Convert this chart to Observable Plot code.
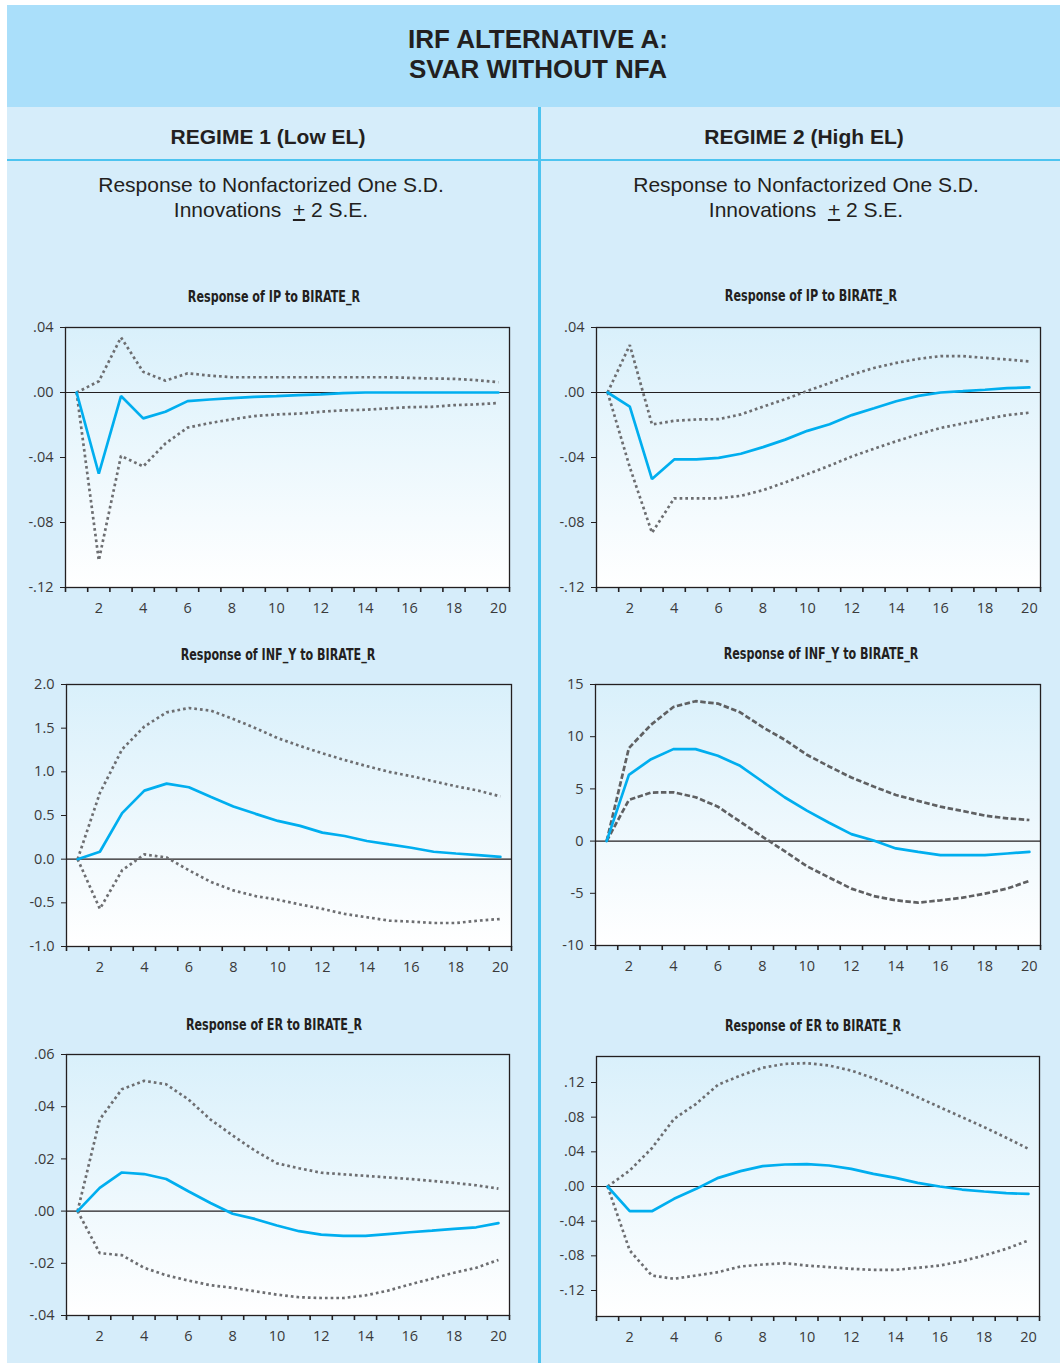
<!DOCTYPE html>
<html>
<head>
<meta charset="utf-8">
<script src="https://cdn.jsdelivr.net/npm/d3@7"></script>
<script src="https://cdn.jsdelivr.net/npm/@observablehq/plot@0.6"></script>
<style>
  html, body { margin: 0; padding: 0; }
  body { width: 1060px; height: 1363px; position: relative; overflow: hidden; background: #ffffff;
         font-family: "Liberation Sans", Arial, Helvetica, sans-serif; color: #231f20; }
  .box { position: absolute; }
  .txt { position: absolute; white-space: pre; line-height: 1; text-align: center; color: #231f20; }
  .ctitle { position: absolute; white-space: pre; line-height: 1; text-align: center; color: #231f20;
            font-family: "Liberation Sans Narrow", "DejaVu Sans Condensed", "Liberation Sans", sans-serif;
            font-weight: bold; font-size: 15.5px; font-stretch: condensed;
            transform: scaleX(0.8); transform-origin: 50% 50%; }
</style>
</head>
<body>
<svg width="0" height="0" style="position:absolute">
  <defs>
    <linearGradient id="plotbg" x1="0" y1="0" x2="0" y2="1">
      <stop offset="0" stop-color="#d9f0fb"/>
      <stop offset="1" stop-color="#ffffff"/>
    </linearGradient>
  </defs>
</svg>

<div class="box" style="left:7px;top:5px;width:1053px;height:1358px;background:#d6edfa"></div>
<div class="box" style="left:7px;top:5px;width:1053px;height:102px;background:#aadffa"></div>
<div class="box" style="left:538px;top:107px;width:3px;height:1256px;background:#4dc4f0"></div>
<div class="box" style="left:7px;top:159px;width:1053px;height:2px;background:#4dc4f0"></div>

<div class="txt" style="left:138px;width:800px;top:26px;font-size:26px;font-weight:bold">IRF ALTERNATIVE A:</div>
<div class="txt" style="left:138px;width:800px;top:56px;font-size:26px;font-weight:bold">SVAR WITHOUT NFA</div>

<div class="txt" style="left:68px;width:400px;top:125.5px;font-size:21px;font-weight:bold">REGIME 1 (Low EL)</div>
<div class="txt" style="left:604px;width:400px;top:125.5px;font-size:21px;font-weight:bold">REGIME 2 (High EL)</div>

<div class="txt" style="left:71px;width:400px;top:174px;font-size:21px">Response to Nonfactorized One S.D.</div>
<div class="txt" style="left:71px;width:400px;top:199px;font-size:21px">Innovations  <span style="text-decoration:underline">+</span> 2 S.E.</div>
<div class="txt" style="left:606px;width:400px;top:174px;font-size:21px">Response to Nonfactorized One S.D.</div>
<div class="txt" style="left:606px;width:400px;top:199px;font-size:21px">Innovations  <span style="text-decoration:underline">+</span> 2 S.E.</div>

<script>
// ---------- data ----------
const horizon = [1, 2, 3, 4, 5, 6, 7, 8, 9, 10, 11, 12, 13, 14, 15, 16, 17, 18, 19, 20];

// Response of IP to BIRATE_R, Regime 1
const ipR1Resp  = [0, -0.050, -0.0022, -0.0159, -0.0118, -0.0053, -0.0043, -0.0035, -0.0027, -0.0022, -0.0016, -0.0012, -0.0004, 0, 0, 0, 0, 0, 0, 0];
const ipR1Upper = [0, 0.0069, 0.0339, 0.0127, 0.0073, 0.0118, 0.0104, 0.0094, 0.0094, 0.0094, 0.0094, 0.0094, 0.0094, 0.0094, 0.0094, 0.0090, 0.0086, 0.0084, 0.0076, 0.0063];
const ipR1Lower = [0, -0.1033, -0.0390, -0.0455, -0.0314, -0.0216, -0.0188, -0.0165, -0.0145, -0.0135, -0.0130, -0.0118, -0.0110, -0.0106, -0.0098, -0.0090, -0.0088, -0.0078, -0.0073, -0.0065];

// Response of IP to BIRATE_R, Regime 2
const ipR2Resp  = [0, -0.0087, -0.0533, -0.0412, -0.0412, -0.0402, -0.0377, -0.0336, -0.0290, -0.0236, -0.0195, -0.0139, -0.0097, -0.0054, -0.0021, 0, 0.0008, 0.0017, 0.0027, 0.0031];
const ipR2Upper = [0, 0.0292, -0.0197, -0.0174, -0.0166, -0.0164, -0.0135, -0.0087, -0.0041, 0.0010, 0.0058, 0.0110, 0.0151, 0.0182, 0.0207, 0.0224, 0.0224, 0.0213, 0.0203, 0.0191];
const ipR2Lower = [0, -0.0460, -0.0864, -0.0651, -0.0651, -0.0651, -0.0636, -0.0601, -0.0553, -0.0502, -0.0450, -0.0394, -0.0346, -0.0300, -0.0257, -0.0218, -0.0191, -0.0164, -0.0139, -0.0124];

// Response of INF_Y to BIRATE_R, Regime 1
const infR1Resp  = [0, 0.085, 0.527, 0.785, 0.865, 0.823, 0.712, 0.604, 0.519, 0.438, 0.381, 0.304, 0.265, 0.208, 0.169, 0.131, 0.085, 0.065, 0.046, 0.027];
const infR1Upper = [0, 0.758, 1.258, 1.519, 1.681, 1.731, 1.700, 1.604, 1.500, 1.385, 1.296, 1.212, 1.135, 1.065, 1.000, 0.950, 0.892, 0.835, 0.785, 0.719];
const infR1Lower = [0, -0.569, -0.127, 0.054, 0.019, -0.127, -0.262, -0.358, -0.423, -0.465, -0.519, -0.569, -0.627, -0.665, -0.704, -0.715, -0.731, -0.731, -0.704, -0.685];

// Response of INF_Y to BIRATE_R, Regime 2
const infR2Resp  = [0, 6.35, 7.85, 8.81, 8.81, 8.17, 7.21, 5.71, 4.20, 2.92, 1.76, 0.67, 0.05, -0.70, -1.03, -1.35, -1.35, -1.35, -1.19, -1.03];
const infR2Upper = [0, 8.91, 11.15, 12.85, 13.40, 13.17, 12.34, 10.93, 9.71, 8.27, 7.15, 6.09, 5.22, 4.42, 3.85, 3.30, 2.88, 2.44, 2.18, 2.02];
const infR2Lower = [0, 3.94, 4.65, 4.68, 4.20, 3.30, 1.86, 0.42, -0.96, -2.40, -3.49, -4.55, -5.26, -5.67, -5.90, -5.67, -5.42, -5.03, -4.55, -3.81];

// Response of ER to BIRATE_R, Regime 1
const erR1Resp  = [0, 0.0089, 0.0148, 0.0142, 0.0123, 0.0076, 0.0031, -0.0010, -0.0030, -0.0055, -0.0077, -0.0090, -0.0095, -0.0095, -0.0088, -0.0081, -0.0075, -0.0068, -0.0062, -0.0046];
const erR1Upper = [0, 0.0351, 0.0467, 0.0499, 0.0486, 0.0428, 0.0351, 0.0290, 0.0232, 0.0183, 0.0164, 0.0147, 0.0141, 0.0135, 0.0129, 0.0123, 0.0116, 0.0108, 0.0099, 0.0086];
const erR1Lower = [0, -0.0161, -0.0169, -0.0217, -0.0246, -0.0266, -0.0284, -0.0294, -0.0307, -0.0320, -0.0330, -0.0333, -0.0333, -0.0323, -0.0305, -0.0281, -0.0259, -0.0236, -0.0217, -0.0187];

// Response of ER to BIRATE_R, Regime 2
const erR2Resp  = [0, -0.0285, -0.0285, -0.0142, -0.0027, 0.0100, 0.0177, 0.0235, 0.0254, 0.0258, 0.0242, 0.0204, 0.0146, 0.0100, 0.0042, 0, -0.0035, -0.0058, -0.0077, -0.0085];
const erR2Upper = [0, 0.0185, 0.0442, 0.0780, 0.0954, 0.1177, 0.1280, 0.1370, 0.1415, 0.1423, 0.1396, 0.1338, 0.1250, 0.1146, 0.1031, 0.0915, 0.0800, 0.0685, 0.0562, 0.0435];
const erR2Lower = [0, -0.0738, -0.1027, -0.1065, -0.1027, -0.0988, -0.0923, -0.0900, -0.0885, -0.0912, -0.0930, -0.0950, -0.0962, -0.0962, -0.0938, -0.0912, -0.0862, -0.0796, -0.0719, -0.0623];

// tick values
const xLabelTicks    = [2, 4, 6, 8, 10, 12, 14, 16, 18, 20];
const xBoundaryTicks = [0.5, 1.5, 2.5, 3.5, 4.5, 5.5, 6.5, 7.5, 8.5, 9.5, 10.5, 11.5, 12.5, 13.5, 14.5, 15.5, 16.5, 17.5, 18.5, 19.5, 20.5];
const ipTicks    = [-0.12, -0.08, -0.04, 0, 0.04];
const infR1Ticks = [-1, -0.5, 0, 0.5, 1, 1.5, 2];
const infR2Ticks = [-10, -5, 0, 5, 10, 15];
const erR1Ticks  = [-0.04, -0.02, 0, 0.02, 0.04, 0.06];
const erR2Ticks  = [-0.12, -0.08, -0.04, 0, 0.04, 0.08, 0.12];

// chart titles
const chartTitles = ["Response of IP to BIRATE_R", "Response of INF_Y to BIRATE_R", "Response of ER to BIRATE_R"];

// ---------- formatting ----------
const fmt2 = v => d3.format(".2f")(v).replace("\u2212", "-").replace(/^(-?)0\./, "$1.");
const fmt1 = v => d3.format(".1f")(v).replace("\u2212", "-");
const fmt0 = v => d3.format("d")(v).replace("\u2212", "-");

const BLUE = "#00aeef";
const TICKFONT = "'Open Sans', 'Noto Sans', sans-serif";

function chart(cfg) {
  const mL = 65, mR = 15, mT = 15, mB = 35;
  const fw = cfg.right - cfg.left, fh = cfg.bottom - cfg.top;
  const rows = horizon.map((h, i) => ({h, r: cfg.resp[i], u: cfg.upper[i], l: cfg.lower[i]}));
  const band = {
    stroke: cfg.bandColor || "#6d6e71",
    strokeWidth: 2.7,
    strokeDasharray: cfg.dash || "2.7,3",
    strokeLinecap: "butt",
    strokeLinejoin: "miter"
  };
  const p = Plot.plot({
    width: fw + mL + mR,
    height: fh + mT + mB,
    marginLeft: mL, marginRight: mR, marginTop: mT, marginBottom: mB,
    style: {background: "transparent", fontFamily: TICKFONT, fontSize: "14.5px", color: "#3a3a3a", overflow: "visible"},
    x: {type: "linear", domain: [0.5, 20.5]},
    y: {type: "linear", domain: cfg.domain},
    marks: [
      Plot.frame({fill: "url(#plotbg)", stroke: "none"}),
      Plot.ruleY([0], {stroke: "#231f20", strokeWidth: 1.2}),
      Plot.line(rows, {x: "h", y: "u", ...band}),
      Plot.line(rows, {x: "h", y: "l", ...band}),
      Plot.line(rows, {x: "h", y: "r", stroke: BLUE, strokeWidth: 2.7, strokeLinejoin: "miter"}),
      Plot.frame({stroke: "#231f20", strokeWidth: 1.3}),
      Plot.axisX({ticks: xBoundaryTicks, tickSize: 5, tickFormat: () => "", label: null, stroke: "#231f20", strokeWidth: 1.6}),
      Plot.axisX({ticks: xLabelTicks, tickSize: 0, tickPadding: 15, label: null, fill: "#3a3a3a"}),
      Plot.axisY({ticks: cfg.ticks, tickSize: 5, tickPadding: 7, tickFormat: cfg.fmt, label: null, stroke: "#231f20", fill: "#3a3a3a"})
    ]
  });
  p.style.position = "absolute";
  p.style.left = (cfg.left - mL) + "px";
  p.style.top = (cfg.top - mT) + "px";
  document.body.appendChild(p);

  const t = document.createElement("div");
  t.className = "ctitle";
  t.textContent = cfg.title;
  t.style.left = (cfg.titleX - 250) + "px";
  t.style.width = "500px";
  t.style.top = (cfg.titleBase - 13.2) + "px";
  document.body.appendChild(t);
}

chart({title: chartTitles[0], titleX: 274, titleBase: 303, left: 65, top: 327, right: 509, bottom: 587,
       domain: [-0.12, 0.04], ticks: ipTicks, fmt: fmt2, resp: ipR1Resp, upper: ipR1Upper, lower: ipR1Lower});
chart({title: chartTitles[0], titleX: 811, titleBase: 302, left: 596, top: 327, right: 1040, bottom: 587,
       domain: [-0.12, 0.04], ticks: ipTicks, fmt: fmt2, resp: ipR2Resp, upper: ipR2Upper, lower: ipR2Lower});
chart({title: chartTitles[1], titleX: 278, titleBase: 661, left: 66, top: 684, right: 511, bottom: 946,
       domain: [-1, 2], ticks: infR1Ticks, fmt: fmt1, resp: infR1Resp, upper: infR1Upper, lower: infR1Lower});
chart({title: chartTitles[1], titleX: 821, titleBase: 660, left: 595, top: 684, right: 1040, bottom: 945,
       domain: [-10, 15], ticks: infR2Ticks, fmt: fmt0, resp: infR2Resp, upper: infR2Upper, lower: infR2Lower,
       dash: "5.5,2.5", bandColor: "#5f6062"});
chart({title: chartTitles[2], titleX: 274, titleBase: 1031, left: 66, top: 1054, right: 509, bottom: 1315,
       domain: [-0.04, 0.06], ticks: erR1Ticks, fmt: fmt2, resp: erR1Resp, upper: erR1Upper, lower: erR1Lower});
chart({title: chartTitles[2], titleX: 813, titleBase: 1032, left: 596, top: 1056, right: 1039, bottom: 1316,
       domain: [-0.15, 0.15], ticks: erR2Ticks, fmt: fmt2, resp: erR2Resp, upper: erR2Upper, lower: erR2Lower});
</script>
</body>
</html>
